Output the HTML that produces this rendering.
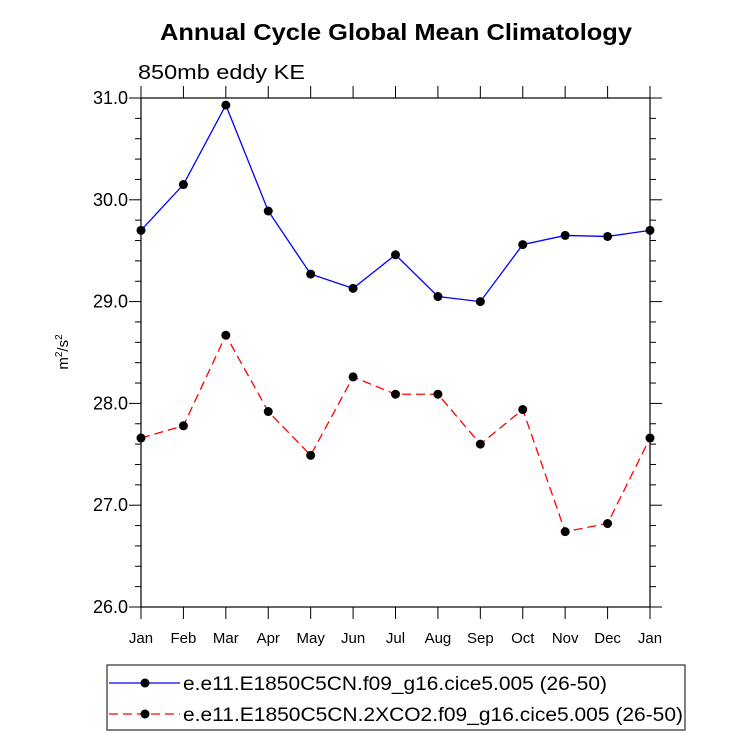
<!DOCTYPE html>
<html><head><meta charset="utf-8"><style>
body{margin:0;background:#fff;}
svg text{font-family:"Liberation Sans",sans-serif;}
</style></head><body>
<svg id="chart" width="733" height="739" xmlns="http://www.w3.org/2000/svg">
<text x="160" y="40" font-size="23" font-weight="bold" textLength="472" lengthAdjust="spacingAndGlyphs">Annual Cycle Global Mean Climatology</text>
<text x="138" y="79" font-size="20" textLength="167" lengthAdjust="spacingAndGlyphs">850mb eddy KE</text>
<text transform="translate(68,352) rotate(-90)" text-anchor="middle" font-size="15">m<tspan dy="-6" font-size="10">2</tspan><tspan dy="6">/s</tspan><tspan dy="-6" font-size="10">2</tspan></text>
<g id="axes"></g>
<g id="series"></g>
<g>
<rect x="107" y="665" width="578" height="65" fill="none" stroke="#000" stroke-width="1"/>
<line x1="109" y1="683" x2="180" y2="683" stroke="#0000ff" stroke-width="1.3"/>
<circle cx="145" cy="683" r="4.5" fill="#000"/>
<text x="183" y="690" font-size="19" textLength="424" lengthAdjust="spacingAndGlyphs">e.e11.E1850C5CN.f09_g16.cice5.005 (26-50)</text>
<line x1="109" y1="714" x2="180" y2="714" stroke="#ff0000" stroke-width="1.3" stroke-dasharray="9,5"/>
<circle cx="145" cy="714" r="4.5" fill="#000"/>
<text x="183" y="721" font-size="19" textLength="500" lengthAdjust="spacingAndGlyphs">e.e11.E1850C5CN.2XCO2.f09_g16.cice5.005 (26-50)</text>
</g>
</svg>
<script>
const months = ["Jan","Feb","Mar","Apr","May","Jun","Jul","Aug","Sep","Oct","Nov","Dec","Jan"];
const controlValues = [29.70,30.15,30.93,29.89,29.27,29.13,29.46,29.05,29.00,29.56,29.65,29.64,29.70];
const co2Values = [27.66,27.78,28.67,27.92,27.49,28.26,28.09,28.09,27.60,27.94,26.74,26.82,27.66];
const yTicks = [26.0,27.0,28.0,29.0,30.0,31.0];
const yMin = 26, yMax = 31;
const X0 = 141, X1 = 650, Y0 = 607, Y1 = 98;
const NS = "http://www.w3.org/2000/svg";
function xs(i){return X0 + i*(X1-X0)/(months.length-1);}
function ys(v){return Y0 - (v-yMin)/(yMax-yMin)*(Y0-Y1);}
function mk(tag, attrs, parent){const e=document.createElementNS(NS,tag);for(const k in attrs)e.setAttribute(k,attrs[k]);parent.appendChild(e);return e;}
const axes=document.getElementById('axes');
const frame=mk('rect',{x:X0,y:Y1,width:X1-X0,height:Y0-Y1,fill:'none',stroke:'#000','stroke-width':1.2},axes);


for(let v=yMin; v<=yMax+1e-9; v+=0.2){
  const y=ys(v); const major=Math.abs(v-Math.round(v))<1e-6; const L=major?12:6;
  mk('line',{x1:X0-L,y1:y,x2:X0,y2:y,stroke:'#000','stroke-width':1},axes);
  mk('line',{x1:X1,y1:y,x2:X1+L,y2:y,stroke:'#000','stroke-width':1},axes);
}
yTicks.forEach(v=>{
  const t=mk('text',{x:X0-13,y:ys(v)+6,'text-anchor':'end','font-size':18},axes);
  t.textContent=v.toFixed(1);
  
  
});
months.forEach((m,i)=>{
  const x=xs(i);
  mk('line',{x1:x,y1:Y0,x2:x,y2:Y0+12,stroke:'#000','stroke-width':1},axes);
  mk('line',{x1:x,y1:Y1-12,x2:x,y2:Y1,stroke:'#000','stroke-width':1},axes);
  const t=mk('text',{x:x,y:643,'text-anchor':'middle','font-size':15},axes);
  t.textContent=m;
  
  
});
const series=document.getElementById('series');
function drawSeries(vals,color,dash,name){
  const g=mk('g',{},series);
  
  
  const pts=vals.map((v,i)=>xs(i)+','+ys(v)).join(' ');
  const attrs={points:pts,fill:'none',stroke:color,'stroke-width':1.3};
  if(dash)attrs['stroke-dasharray']=dash;
  mk('polyline',attrs,g);
  vals.forEach((v,i)=>{
    const c=mk('circle',{cx:xs(i),cy:ys(v),r:4.5,fill:'#000'},g);
    
    
  });
}
drawSeries(controlValues,'#0000ff',null,'series-control');
drawSeries(co2Values,'#ff0000','9,5','series-2xco2');
</script>
</body></html>
